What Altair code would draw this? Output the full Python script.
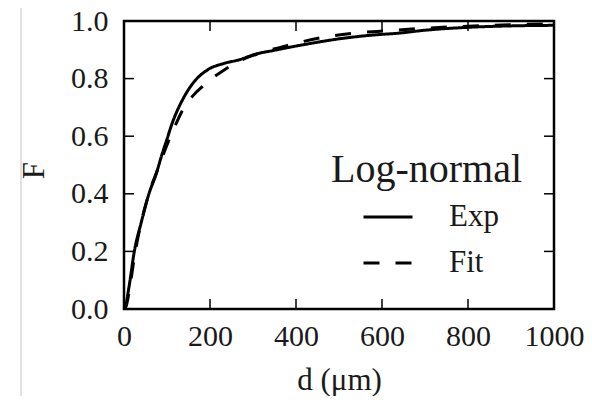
import altair as alt
import pandas as pd

# Experimental CDF (solid)
exp_d = [0, 5, 12, 24, 40, 58, 75, 89, 100, 112, 136, 163, 194, 233, 267, 306, 345, 422, 500, 577, 640, 700, 800, 900, 1000]
exp_F = [0, 0.02, 0.08, 0.2, 0.3, 0.4, 0.47, 0.54, 0.59, 0.645, 0.726, 0.789, 0.83, 0.853, 0.865, 0.885, 0.897, 0.919, 0.938, 0.951, 0.958, 0.968, 0.978, 0.983, 0.985]

# Log-normal fit (dashed)
fit_d = [0, 5, 12, 24, 40, 60, 78, 100, 120, 136, 160, 182, 200, 233, 270, 320, 380, 457, 531, 610, 700, 800, 900, 1000]
fit_F = [0, 0.01, 0.06, 0.18, 0.3, 0.41, 0.483, 0.57, 0.64, 0.69, 0.74, 0.772, 0.795, 0.83, 0.862, 0.89, 0.915, 0.942, 0.957, 0.966, 0.975, 0.982, 0.987, 0.99]

x_ticks = [0, 200, 400, 600, 800, 1000]
y_ticks = [0.0, 0.2, 0.4, 0.6, 0.8, 1.0]

FONT = "Liberation Serif"
W, H = 430, 288

df = pd.DataFrame({
    "d": exp_d + fit_d,
    "F": exp_F + fit_F,
    "series": ["Exp"] * len(exp_d) + ["Fit"] * len(fit_d),
})

xscale = alt.Scale(domain=[0, 1000], nice=False, zero=False)
yscale = alt.Scale(domain=[0, 1], nice=False)

xaxis = alt.Axis(
    values=x_ticks, format="d", title="d (μm)", labelPadding=12,
    labelFont=FONT, titleFont=FONT,
    titleY=80, titleBaseline="alphabetic")
yaxis = alt.Axis(
    values=y_ticks, format=".1f", title="F", labelPadding=16,
    labelFont=FONT, titleFont=FONT,
    titleX=-90, titleY=149, titleAngle=-90, titleBaseline="middle", titleAlign="center")

lines = alt.Chart(df).mark_line(color="black", strokeWidth=3, interpolate="monotone").encode(
    x=alt.X("d:Q", scale=xscale, axis=xaxis),
    y=alt.Y("F:Q", scale=yscale, axis=yaxis),
    strokeDash=alt.StrokeDash("series:N",
        scale=alt.Scale(domain=["Exp", "Fit"], range=[[1, 0], [16, 16]]),
        legend=alt.Legend(
            title="Log-normal", orient="none", legendX=207, legendY=129,
            titleFont=FONT, titleFontSize=40, titleFontWeight="normal", titleColor="#1a1a1a",
            titlePadding=5, padding=0, titleLimit=600, labelLimit=300,
            labelFont=FONT, labelFontSize=31, labelColor="#1a1a1a", labelOffset=35,
            symbolType="stroke", symbolStrokeWidth=3, symbolSize=2401,
            symbolStrokeColor="black", symbolOffset=31, clipHeight=44, rowPadding=2)),
)

tick_style = dict(color="black", strokeWidth=1.5)
xt = pd.DataFrame({"d": x_ticks})
yt = pd.DataFrame({"F": y_ticks})

bottom_ticks = alt.Chart(xt).mark_rule(**tick_style).encode(
    x=alt.X("d:Q", scale=xscale, axis=xaxis), y=alt.value(H), y2=alt.value(H - 10))
top_ticks = alt.Chart(xt).mark_rule(**tick_style).encode(
    x=alt.X("d:Q", scale=xscale, axis=xaxis), y=alt.value(0), y2=alt.value(10))
left_ticks = alt.Chart(yt).mark_rule(**tick_style).encode(
    y=alt.Y("F:Q", scale=yscale, axis=yaxis), x=alt.value(0), x2=alt.value(10))
right_ticks = alt.Chart(yt).mark_rule(**tick_style).encode(
    y=alt.Y("F:Q", scale=yscale, axis=yaxis), x=alt.value(W), x2=alt.value(W - 10))

edge = alt.Chart(xt).mark_rule(color="#e2e2e2", strokeWidth=1.5).encode(
    x=alt.value(-103), y=alt.value(-21), y2=alt.value(383))

chart = alt.layer(lines, bottom_ticks, top_ticks, left_ticks, right_ticks, edge).properties(
    width=W, height=H,
    background="white",
    autosize=alt.AutoSizeParams(type="none"),
    padding={"left": 116, "top": 13, "right": 30, "bottom": 87},
).configure(font=FONT).configure_view(stroke="black", strokeWidth=2.5).configure_axis(
    ticks=False, domain=False, grid=False, labelOverlap=False, labelFlush=False,
    labelFont=FONT, labelFontSize=30, labelColor="#1a1a1a", labelFontWeight="normal",
    titleFont=FONT, titleFontSize=31, titleFontWeight="normal", titleColor="#1a1a1a",
).configure_text(font=FONT)

chart.save("out.html", embed_options={"renderer": "svg", "actions": False})
